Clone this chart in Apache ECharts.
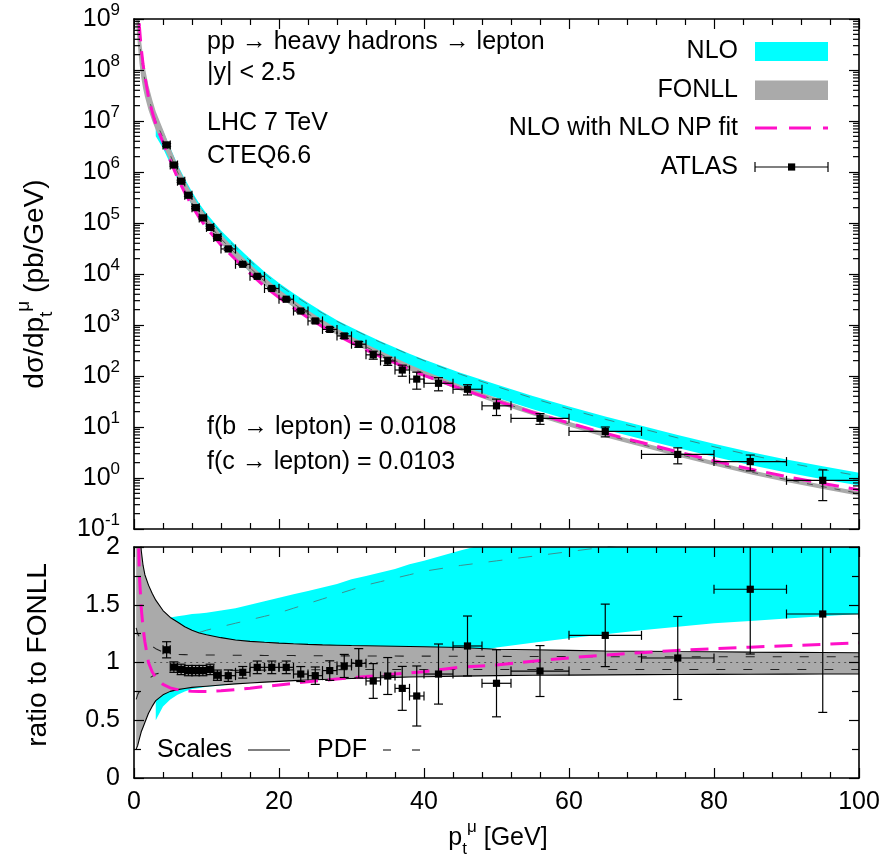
<!DOCTYPE html>
<html><head><meta charset="utf-8">
<script src="https://cdn.jsdelivr.net/npm/echarts@6/dist/echarts.min.js"></script>
<style>html,body{margin:0;padding:0;background:#fff}#c{width:884px;height:859px}</style>
</head><body><div id="c"></div>
<script>
// ---------------- data ----------------
const ptGrid       = [0.3, 0.5, 0.75, 1, 1.25, 1.5, 2, 2.5, 3, 4, 5, 6, 7, 8, 9, 10, 12, 14, 16, 18, 20, 22, 24, 26, 28, 30, 32, 34, 36, 38, 40, 45, 50, 55, 60, 65, 70, 75, 80, 85, 90, 95, 100];
const fonllCentral = [3.2e9, 1.26e9, 4.0e8, 1.78e8, 1.0e8, 6.3e7, 2.95e7, 1.65e7, 1.0e7, 4.7e6, 2.14e6, 1.0e6, 5.25e5, 2.88e5, 1.7e5, 1.07e5, 4.9e4, 2.51e4, 1.32e4, 7.24e3, 4.27e3, 2.63e3, 1.68e3, 1.10e3, 741, 519, 372, 269, 200, 148, 112, 58.9, 33.1, 19.1, 11.5, 7.08, 4.57, 2.95, 1.95, 1.32, 0.93, 0.676, 0.50];
const fonllScaleUp = [3.0, 2.6, 2.2, 1.97, 1.84, 1.76, 1.67, 1.6, 1.54, 1.45, 1.39, 1.35, 1.31, 1.28, 1.255, 1.24, 1.215, 1.195, 1.183, 1.175, 1.168, 1.162, 1.157, 1.153, 1.15, 1.147, 1.145, 1.143, 1.141, 1.139, 1.137, 1.13, 1.115, 1.11, 1.105, 1.10, 1.098, 1.095, 1.093, 1.09, 1.088, 1.087, 1.085];
const fonllScaleDn = [0.25, 0.28, 0.34, 0.40, 0.44, 0.48, 0.56, 0.62, 0.67, 0.72, 0.75, 0.765, 0.775, 0.785, 0.79, 0.795, 0.805, 0.815, 0.823, 0.83, 0.837, 0.843, 0.848, 0.853, 0.857, 0.861, 0.865, 0.868, 0.871, 0.874, 0.877, 0.882, 0.886, 0.889, 0.891, 0.893, 0.895, 0.896, 0.897, 0.898, 0.899, 0.9, 0.9];
const fonllPdfUp   = [1.3, 1.25, 1.22, 1.2, 1.19, 1.18, 1.16, 1.14, 1.12, 1.09, 1.075, 1.07, 1.068, 1.066, 1.065, 1.065, 1.064, 1.063, 1.062, 1.061, 1.06, 1.06, 1.059, 1.058, 1.058, 1.057, 1.057, 1.056, 1.056, 1.055, 1.055, 1.054, 1.053, 1.052, 1.051, 1.05, 1.05, 1.05, 1.05, 1.05, 1.05, 1.05, 1.05];
const fonllPdfDn   = [0.68, 0.72, 0.75, 0.78, 0.81, 0.83, 0.86, 0.88, 0.90, 0.915, 0.925, 0.928, 0.93, 0.93, 0.93, 0.93, 0.931, 0.932, 0.933, 0.934, 0.935, 0.936, 0.937, 0.937, 0.938, 0.938, 0.939, 0.939, 0.94, 0.94, 0.94, 0.94, 0.94, 0.94, 0.94, 0.94, 0.94, 0.94, 0.94, 0.94, 0.94, 0.94, 0.94];
const nloUp        = [null, null, null, null, null, null, null, null, 1.33, 1.37, 1.39, 1.40, 1.41, 1.42, 1.425, 1.43, 1.45, 1.47, 1.50, 1.53, 1.56, 1.59, 1.62, 1.65, 1.68, 1.72, 1.75, 1.78, 1.81, 1.85, 1.88, 1.97, 2.05, 2.12, 2.2, 2.26, 2.32, 2.37, 2.41, 2.45, 2.48, 2.51, 2.54];
const nloDn        = [null, null, null, null, null, null, null, null, 0.5, 0.62, 0.68, 0.72, 0.75, 0.77, 0.78, 0.79, 0.80, 0.815, 0.83, 0.845, 0.86, 0.87, 0.885, 0.90, 0.91, 0.92, 0.935, 0.95, 0.965, 0.98, 1.0, 1.06, 1.13, 1.17, 1.21, 1.245, 1.28, 1.31, 1.34, 1.36, 1.38, 1.40, 1.42];
const nloCentral   = [null, null, null, null, null, null, null, null, null, null, 1.15, 1.18, 1.21, 1.24, 1.26, 1.28, 1.31, 1.34, 1.37, 1.40, 1.43, 1.47, 1.51, 1.55, 1.59, 1.63, 1.67, 1.70, 1.73, 1.76, 1.79, 1.84, 1.88, 1.92, 1.96, 2.0, 2.04, 2.07, 2.1, 2.13, 2.16, 2.18, 2.2];
const nloNpFit     = [3.2, 2.3, 1.75, 1.47, 1.3, 1.18, 1.0, 0.92, 0.87, 0.81, 0.78, 0.765, 0.755, 0.75, 0.748, 0.748, 0.755, 0.765, 0.778, 0.792, 0.806, 0.82, 0.833, 0.845, 0.857, 0.868, 0.878, 0.889, 0.90, 0.91, 0.92, 0.96, 0.978, 1.01, 1.04, 1.065, 1.085, 1.105, 1.12, 1.133, 1.145, 1.157, 1.17];

const atlasPt     = [4.5, 5.5, 6.5, 7.5, 8.5, 9.5, 10.5, 11.5, 13, 15, 17, 19, 21, 23, 25, 27, 29, 31, 33, 35, 37, 39, 42, 46, 50, 56, 65, 75, 85, 95];
const atlasPtLo   = [4, 5, 6, 7, 8, 9, 10, 11, 12, 14, 16, 18, 20, 22, 24, 26, 28, 30, 32, 34, 36, 38, 40, 44, 48, 52, 60, 70, 80, 90];
const atlasPtHi   = [5, 6, 7, 8, 9, 10, 11, 12, 14, 16, 18, 20, 22, 24, 26, 28, 30, 32, 34, 36, 38, 40, 44, 48, 52, 60, 70, 80, 90, 100];
const atlasXsec   = [3.4e6, 1.37e6, 6.6e5, 3.5e5, 2.0e5, 1.26e5, 8.2e4, 5.2e4, 3.1e4, 1.55e4, 9.0e3, 5.2e3, 3.2e3, 1.88e3, 1.2e3, 820, 610, 420, 260, 197, 131, 87, 72, 55, 26, 14.8, 8.2, 2.9, 2.1, 0.9];
const atlasRatio  = [1.11, 0.96, 0.94, 0.93, 0.93, 0.93, 0.94, 0.89, 0.886, 0.915, 0.958, 0.958, 0.958, 0.90, 0.886, 0.93, 0.97, 0.993, 0.84, 0.883, 0.776, 0.71, 0.90, 1.143, 0.82, 0.926, 1.235, 1.039, 1.634, 1.42];
const atlasRelErr = [0.063, 0.047, 0.048, 0.048, 0.048, 0.048, 0.048, 0.05, 0.056, 0.055, 0.057, 0.057, 0.057, 0.072, 0.085, 0.091, 0.103, 0.128, 0.179, 0.181, 0.245, 0.366, 0.289, 0.227, 0.354, 0.238, 0.219, 0.346, 0.343, 0.60];

const xTickLabels     = ['0', '20', '40', '60', '80', '100'];
const ratioTickLabels = ['0', '0.5', '1', '1.5', '2'];

// ---------------- styling ----------------
const FONT = 'Liberation Sans, Arial, Helvetica, sans-serif';
const FS = 25, FT = 28;
const CYAN = '#00ffff', GRAY = '#aaaaaa', MAG = '#ff10c8';

const pairs = (ys, f) => ptGrid.map((x, i) => ys[i] == null ? [x, null] : [x, f ? f(i) : ys[i]]);

function bandRender(upArr, dnArr, color) {
  return function (params, api) {
    const pts = [];
    for (let i = 0; i < ptGrid.length; i++) if (upArr[i] != null) pts.push(api.coord([ptGrid[i], upArr[i]]));
    for (let i = ptGrid.length - 1; i >= 0; i--) if (dnArr[i] != null) pts.push(api.coord([ptGrid[i], dnArr[i]]));
    return { type: 'polygon', shape: { points: pts }, style: { fill: color, stroke: null }, silent: true };
  };
}
const mul = (a, b) => a.map((v, i) => (v == null || b[i] == null) ? null : v * b[i]);

function errRender(params, api) {
  const x = api.value(0), y = api.value(1);
  const c = api.coord([x, y]);
  const pl = api.coord([api.value(2), y]), ph = api.coord([api.value(3), y]);
  const pyl = api.coord([x, api.value(4)]), pyh = api.coord([x, api.value(5)]);
  const cap = 4.5, s = 3.6;
  const ls = { stroke: '#000', lineWidth: 1.2 };
  const L = (x1, y1, x2, y2) => ({ type: 'line', shape: { x1, y1, x2, y2 }, style: ls });
  return { type: 'group', children: [
    L(pl[0], c[1], ph[0], c[1]),
    L(pl[0], c[1] - cap, pl[0], c[1] + cap),
    L(ph[0], c[1] - cap, ph[0], c[1] + cap),
    L(c[0], pyl[1], c[0], pyh[1]),
    L(c[0] - cap, pyl[1], c[0] + cap, pyl[1]),
    L(c[0] - cap, pyh[1], c[0] + cap, pyh[1]),
    { type: 'rect', shape: { x: c[0] - s, y: c[1] - s, width: 2 * s, height: 2 * s }, style: { fill: '#000' } }
  ]};
}

const topErrData = atlasPt.map((x, i) => [x, atlasXsec[i], atlasPtLo[i], atlasPtHi[i], atlasXsec[i] * (1 - atlasRelErr[i]), atlasXsec[i] * (1 + atlasRelErr[i])]);
const botErrData = atlasPt.map((x, i) => [x, atlasRatio[i], atlasPtLo[i], atlasPtHi[i], atlasRatio[i] * (1 - atlasRelErr[i]), atlasRatio[i] * (1 + atlasRelErr[i])]);

// log minor ticks (2..9 x 10^k)
const logMinor = [];
for (let k = -1; k < 9; k++) for (let m = 2; m <= 9; m++) logMinor.push([0, m * Math.pow(10, k)]);

function minorRender(params, api) {
  const y = api.coord([0, api.value(1)])[1];
  const cs = params.coordSys;
  const ls = { stroke: '#000', lineWidth: 1.2 };
  return { type: 'group', children: [
    { type: 'line', shape: { x1: cs.x, y1: y, x2: cs.x + 6, y2: y }, style: ls },
    { type: 'line', shape: { x1: cs.x + cs.width - 6, y1: y, x2: cs.x + cs.width, y2: y }, style: ls }
  ]};
}

const axLine = { show: true, onZero: false, lineStyle: { color: '#000', width: 1.6 } };
const axTick = { show: true, inside: true, length: 10, lineStyle: { color: '#000', width: 1.2 } };
function xAx(grid, pos, labels) {
  return {
    gridIndex: grid, type: 'value', position: pos, min: 0, max: 100, interval: 20, z: 10,
    axisLine: axLine, axisTick: axTick,
    minorTick: { show: true, splitNumber: 5, length: 6, lineStyle: { color: '#000', width: 1.2 } },
    splitLine: { show: false },
    axisLabel: labels ? { show: true, margin: 12, color: '#000', fontSize: FS, fontFamily: FONT,
      formatter: (v) => xTickLabels[Math.round(v / 20)] } : { show: false }
  };
}
function yLog(pos, labels) {
  return {
    gridIndex: 0, type: 'log', logBase: 10, position: pos, min: 0.1, max: 1e9, splitNumber: 10, z: 10,
    axisLine: axLine, axisTick: axTick, splitLine: { show: false }, minorTick: { show: false },
    axisLabel: labels ? {
      show: true, margin: 14, color: '#000', fontFamily: FONT,
      formatter: (v) => '{b|10}{s|' + Math.round(Math.log10(v)) + '}',
      rich: { b: { fontSize: FS, fontFamily: FONT, lineHeight: 34, color: '#000' },
              s: { fontSize: 17, fontFamily: FONT, lineHeight: 17, verticalAlign: 'top', color: '#000' } }
    } : { show: false }
  };
}
function yRat(pos, labels) {
  return {
    gridIndex: 1, type: 'value', position: pos, min: 0, max: 2, interval: 0.5, z: 10,
    axisLine: axLine, axisTick: axTick, splitLine: { show: false },
    minorTick: { show: true, splitNumber: 2, length: 7, lineStyle: { color: '#000', width: 1.2 } },
    axisLabel: labels ? { show: true, margin: 14, color: '#000', fontSize: FS, fontFamily: FONT,
      formatter: (v) => ratioTickLabels[Math.round(v * 2)] } : { show: false }
  };
}

const lineS = (xi, yi, data, color, width, type, z) => ({
  type: 'line', xAxisIndex: xi, yAxisIndex: yi, data, showSymbol: false, symbol: 'none', silent: true,
  connectNulls: false, clip: true, z: z || 3,
  lineStyle: { color, width, type: type || 'solid' }
});

const fTopUp = mul(fonllCentral, fonllScaleUp), fTopDn = mul(fonllCentral, fonllScaleDn);
const nTopUp = mul(fonllCentral, nloUp), nTopDn = mul(fonllCentral, nloDn);

const series = [
  // ---- top panel ----
  { type: 'custom', xAxisIndex: 0, yAxisIndex: 0, data: [[50, 1]], clip: true, z: 1, renderItem: bandRender(nTopUp, nTopDn, CYAN), silent: true },
  lineS(0, 0, pairs(nloCentral, i => fonllCentral[i] * nloCentral[i]), '#2f8f8f', 1, [10, 12], 1.5),
  { type: 'custom', xAxisIndex: 0, yAxisIndex: 0, data: [[50, 1]], clip: true, z: 2, renderItem: bandRender(fTopUp, fTopDn, GRAY), silent: true },
  lineS(0, 0, pairs(fonllCentral), '#555555', 1, [6, 8], 2.5),
  lineS(0, 0, pairs(nloNpFit, i => fonllCentral[i] * nloNpFit[i]), MAG, 3, [18, 10], 3),
  { type: 'custom', xAxisIndex: 0, yAxisIndex: 0, data: topErrData, clip: true, z: 5, renderItem: errRender, silent: true },
  { type: 'custom', xAxisIndex: 0, yAxisIndex: 0, data: logMinor, clip: false, z: 11, renderItem: minorRender, silent: true },
  // ---- ratio panel ----
  { type: 'custom', xAxisIndex: 2, yAxisIndex: 2, data: [[50, 1]], clip: true, z: 1, renderItem: bandRender(nloUp, nloDn, CYAN), silent: true },
  lineS(2, 2, pairs(nloCentral), '#3d8f8f', 1, [14, 16], 1.5),
  { type: 'custom', xAxisIndex: 2, yAxisIndex: 2, data: [[50, 1]], clip: true, z: 2, renderItem: bandRender(fonllScaleUp, fonllScaleDn, GRAY), silent: true },
  lineS(2, 2, pairs(fonllScaleUp), '#000', 1.1, 'solid', 2.5),
  lineS(2, 2, pairs(fonllScaleDn), '#000', 1.1, 'solid', 2.5),
  lineS(2, 2, pairs(fonllPdfUp), '#222', 1.1, [9, 18], 2.5),
  lineS(2, 2, pairs(fonllPdfDn), '#222', 1.1, [9, 18], 2.5),
  lineS(2, 2, ptGrid.map(x => [x, 1]), '#555', 1, [2, 4], 2.5),
  lineS(2, 2, pairs(nloNpFit), MAG, 3, [18, 10], 3),
  { type: 'custom', xAxisIndex: 2, yAxisIndex: 2, data: botErrData, clip: true, z: 5, renderItem: errRender, silent: true }
];

const txt = (text, x, y, align, extra) => Object.assign({
  type: 'text', x, y, silent: true, z: 20,
  style: { text, fontSize: FS, fontFamily: FONT, fill: '#000', align: align || 'left', verticalAlign: 'middle',
           textAlign: align || 'left', textVerticalAlign: 'middle' }
}, extra || {});

const richSS = (fs) => ({
  n: { fontSize: fs, fontFamily: FONT, lineHeight: fs + 14, fill: '#000', color: '#000' },
  sub: { fontSize: Math.round(fs * 0.68), fontFamily: FONT, lineHeight: Math.round(fs * 0.68), verticalAlign: 'bottom', fill: '#000', color: '#000' },
  sup: { fontSize: Math.round(fs * 0.68), fontFamily: FONT, lineHeight: Math.round(fs * 0.68), verticalAlign: 'top', fill: '#000', color: '#000' }
});

const graphics = [
  txt('pp \u2192 heavy hadrons \u2192 lepton', 207, 42),
  txt('|y| < 2.5', 207, 73),
  txt('LHC 7 TeV', 207, 123),
  txt('CTEQ6.6', 207, 156),
  txt('f(b \u2192 lepton) = 0.0108', 207, 427),
  txt('f(c \u2192 lepton) = 0.0103', 207, 462),
  // legend
  txt('NLO', 738, 51, 'right'),
  txt('FONLL', 738, 90, 'right'),
  txt('NLO with NLO NP fit', 738, 128.5, 'right'),
  txt('ATLAS', 738, 167, 'right'),
  { type: 'rect', shape: { x: 755, y: 42, width: 73, height: 19 }, style: { fill: CYAN }, z: 20, silent: true },
  { type: 'rect', shape: { x: 755, y: 80.5, width: 73, height: 19.5 }, style: { fill: GRAY }, z: 20, silent: true },
  { type: 'line', shape: { x1: 755, y1: 128, x2: 828, y2: 128 }, style: { stroke: MAG, lineWidth: 3, lineDash: [22, 12] }, z: 20, silent: true },
  { type: 'line', shape: { x1: 755, y1: 167, x2: 828, y2: 167 }, style: { stroke: '#000', lineWidth: 1.2 }, z: 20, silent: true },
  { type: 'line', shape: { x1: 755, y1: 162, x2: 755, y2: 172 }, style: { stroke: '#000', lineWidth: 1.2 }, z: 20, silent: true },
  { type: 'line', shape: { x1: 828, y1: 162, x2: 828, y2: 172 }, style: { stroke: '#000', lineWidth: 1.2 }, z: 20, silent: true },
  { type: 'rect', shape: { x: 788, y: 163.4, width: 7.2, height: 7.2 }, style: { fill: '#000' }, z: 20, silent: true },
  // ratio legend
  txt('Scales', 157, 750),
  { type: 'line', shape: { x1: 248, y1: 750, x2: 290, y2: 750 }, style: { stroke: '#000', lineWidth: 1.1 }, z: 20, silent: true },
  txt('PDF', 317, 750),
  { type: 'line', shape: { x1: 383, y1: 750, x2: 421, y2: 750 }, style: { stroke: '#000', lineWidth: 1.1, lineDash: [8, 21] }, z: 20, silent: true },
  // axis titles
  { type: 'text', x: 498, y: 838, z: 20, silent: true,
    style: { text: '{n|p}{sub|t}{sup|\u03bc}{n| [GeV]}', rich: richSS(FS), fontFamily: FONT, fill: '#000', align: 'center', verticalAlign: 'middle', textAlign: 'center', textVerticalAlign: 'middle' } },
  { type: 'text', x: 35, y: 284, rotation: Math.PI / 2, z: 20, silent: true,
    style: { text: '{n|d\u03c3/dp}{sub|t}{sup|\u03bc}{n| (pb/GeV)}', rich: richSS(FT), fontFamily: FONT, fill: '#000', align: 'center', verticalAlign: 'middle', textAlign: 'center', textVerticalAlign: 'middle' } },
  { type: 'text', x: 38, y: 655, rotation: Math.PI / 2, z: 20, silent: true,
    style: { text: 'ratio to FONLL', fontSize: FT, fontFamily: FONT, fill: '#000', align: 'center', verticalAlign: 'middle', textAlign: 'center', textVerticalAlign: 'middle' } }
];

const chart = echarts.init(document.getElementById('c'), null, { renderer: 'canvas' });
chart.setOption({
  animation: false,
  backgroundColor: '#fff',
  grid: [
    { left: 134, top: 19, width: 725, height: 510 },
    { left: 134, top: 547, width: 725, height: 231 }
  ],
  xAxis: [xAx(0, 'bottom', false), xAx(0, 'top', false), xAx(1, 'bottom', true), xAx(1, 'top', false)],
  yAxis: [yLog('left', true), yLog('right', false), yRat('left', true), yRat('right', false)],
  series,
  graphic: { elements: graphics }
});
</script>
</body></html>
